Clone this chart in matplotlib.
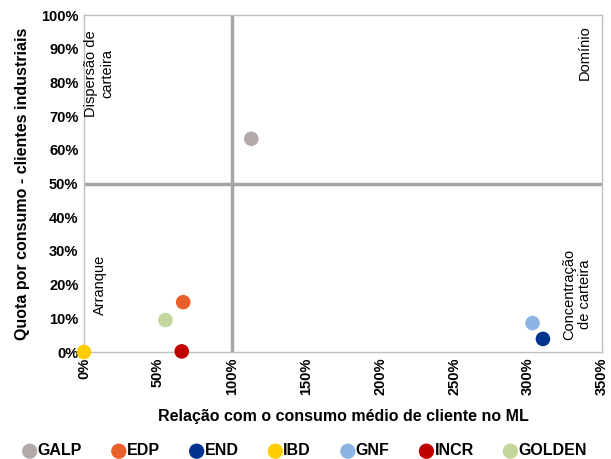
import numpy as np
import matplotlib
matplotlib.use("Agg")
import matplotlib.pyplot as plt
from matplotlib.ticker import PercentFormatter
from matplotlib import font_manager

fams = {f.name for f in font_manager.fontManager.ttflist}
narrow = "Liberation Sans Narrow" if "Liberation Sans Narrow" in fams else "Liberation Sans"
plt.rcParams['font.family'] = [narrow, 'DejaVu Sans']

# Empresas e posicao no quadrante
names = ["GALP", "EDP", "END", "IBD", "GNF", "INCR", "GOLDEN"]
rel_consumo = [113, 67, 310, 0, 303, 66, 55]      # % relacao com consumo medio
quota = [63.3, 14.8, 3.9, 0.0, 8.6, 0.2, 9.5]     # % quota clientes industriais
colors = ["#B3A9A9", "#E8602C", "#00338D", "#FFCC00", "#8EB4E3", "#C00000", "#C3D69B"]

xticks = np.arange(0, 351, 50)
yticks = np.arange(0, 101, 10)

fig = plt.figure(figsize=(6.11, 4.59), dpi=100)
ax = fig.add_axes([0.1375, 0.233, 0.848, 0.734])

for n, x, y, c in zip(names, rel_consumo, quota, colors):
    ax.scatter(x, y, s=110, color=c, label=n, zorder=5, clip_on=False, edgecolors="none")

# linhas dos quadrantes
ax.axvline(100, color="#A6A6A6", lw=2.5, zorder=2)
ax.axhline(50, color="#A6A6A6", lw=2.5, zorder=2)

ax.set_xlim(0, 350)
ax.set_ylim(0, 100)
ax.set_xticks(xticks)
ax.set_yticks(yticks)
ax.xaxis.set_major_formatter(PercentFormatter(decimals=0))
ax.yaxis.set_major_formatter(PercentFormatter(decimals=0))
ax.tick_params(length=0, labelsize=10.5, pad=4)
ax.tick_params(axis="x", labelrotation=90)
for lab in ax.get_xticklabels() + ax.get_yticklabels():
    lab.set_fontweight("bold")

for s in ax.spines.values():
    s.set_color("#BFBFBF")
    s.set_linewidth(1)

ax.set_xlabel("Relação com o consumo médio de cliente no ML", fontsize=11.5, fontweight="bold", labelpad=10)
ax.set_ylabel("Quota por consumo - clientes industriais", fontsize=11.5, fontweight="bold", labelpad=8)

# etiquetas dos quadrantes
ax.text(10.5, 95.5, "Dispersão de\ncarteira", rotation=90, ha="center", va="top", fontsize=10.5, multialignment="center")
ax.text(338, 97, "Domínio", rotation=90, ha="center", va="top", fontsize=10.5)
ax.text(10.5, 20, "Arranque", rotation=90, ha="center", va="center", fontsize=10.5)
ax.text(333, 3.5, "Concentração\nde carteira", rotation=90, ha="center", va="bottom", fontsize=10.5, multialignment="center")

fig.legend(loc="lower center", bbox_to_anchor=(0.5, -0.03), ncol=7, frameon=False,
           prop={"weight": "bold", "size": 11.5}, handlelength=0.7, handletextpad=0.15,
           columnspacing=1.95, markerscale=1.05)

fig.savefig("out.png", dpi=100)
